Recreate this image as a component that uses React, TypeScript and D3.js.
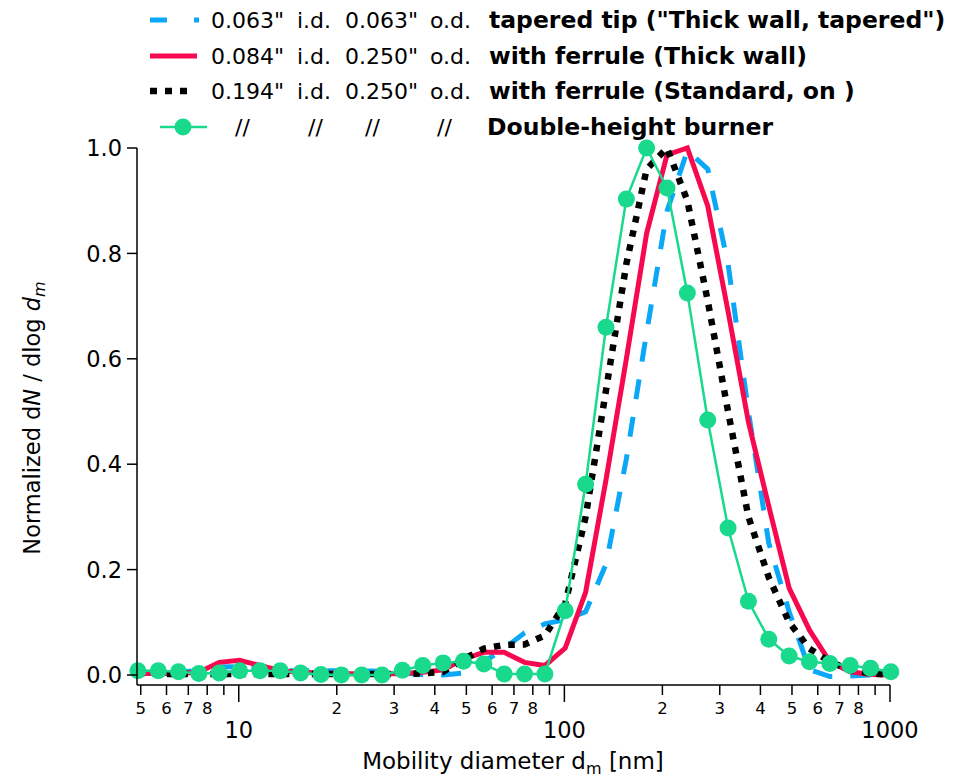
import { useEffect } from 'react'
import * as d3 from 'd3'

// SMPS bin midpoints [nm], 16 per decade
const DIAMETER = [
  4.9, 5.66, 6.53, 7.54, 8.71, 10.06, 11.62, 13.41, 15.49, 17.89, 20.66, 23.86, 27.55,
  31.81, 36.74, 42.43, 48.99, 56.58, 65.33, 75.45, 87.13, 100.6, 116.2, 134.2, 155.0,
  178.9, 206.6, 238.6, 275.6, 318.2, 367.5, 424.4, 490.1, 566.0, 653.6, 754.8, 871.6, 1006,
]

// 0.063" i.d. tapered tip (blue dashed)
const TAPERED = [
  0.005, 0.005, 0.006, 0.008, 0.015, 0.016, 0.012, 0.008, 0.008, 0.008, 0.008, 0.008, 0.007,
  0.004, 0.001, 0.0, 0.004, 0.025, 0.05, 0.08, 0.097, 0.105, 0.12, 0.21, 0.41,
  0.65, 0.88, 0.995, 0.96, 0.78, 0.5, 0.25, 0.12, 0.01, -0.003, -0.002, 0.0, 0.0,
]

// 0.084" i.d. with ferrule (red solid)
const THICK_WALL = [
  0.003, 0.003, 0.003, 0.005, 0.024, 0.028, 0.018, 0.008, 0.005, 0.004, 0.003, 0.002, 0.002,
  0.003, 0.005, 0.01, 0.03, 0.043, 0.043, 0.024, 0.018, 0.051, 0.157, 0.37, 0.6,
  0.838, 0.987, 1.0, 0.89, 0.69, 0.48, 0.32, 0.165, 0.085, 0.025, 0.006, 0.001, 0.0,
]

// 0.194" i.d. with ferrule (black dotted)
const STANDARD = [
  0.003, 0.002, 0.002, 0.002, 0.002, 0.002, 0.002, 0.002, 0.002, 0.002, 0.002, 0.002, 0.002,
  0.002, 0.003, 0.006, 0.03, 0.05, 0.057, 0.058, 0.075, 0.135, 0.3, 0.54, 0.78,
  0.96, 1.0, 0.9, 0.71, 0.5, 0.3, 0.185, 0.1, 0.05, 0.025, 0.01, 0.003, 0.0,
]

// double-height burner (green markers)
const DOUBLE_HEIGHT = [
  0.008, 0.008, 0.006, 0.003, 0.004, 0.008, 0.008, 0.008, 0.004, 0.001, 0.0, 0.0, 0.0,
  0.009, 0.018, 0.023, 0.026, 0.021, 0.002, 0.002, 0.002, 0.122, 0.362, 0.66, 0.903,
  1.0, 0.924, 0.725, 0.484, 0.279, 0.14, 0.068, 0.036, 0.025, 0.022, 0.018, 0.013, 0.006,
]

const Y_TICKS = [0, 0.2, 0.4, 0.6, 0.8, 1.0]
const X_MAJOR_TICKS = [10, 100, 1000]
const X_MINOR_TICKS = [5, 6, 7, 8, 9, 20, 30, 40, 50, 60, 70, 80, 90, 200, 300, 400, 500, 600, 700, 800, 900]
const X_MINOR_LABELS = [5, 6, 7, 8, 20, 30, 40, 50, 60, 70, 80, 200, 300, 400, 500, 600, 700, 800]

const BLUE = '#0aa8f7'
const RED = '#f7094f'
const GREEN = '#18d98c'
const FONT = '"DejaVu Sans", Verdana, sans-serif'

export default function App() {
  useEffect(() => {
    document.body.style.margin = '0'
  }, [])

  const width = 957
  const height = 780
  const x = d3.scaleLog().domain([4.87, 1000]).range([137, 890])
  const y = d3.scaleLinear().domain([0, 1]).range([675, 148])
  const axisY = 685

  const line = d3
    .line<number>()
    .x((_, i) => x(DIAMETER[i]))
    .y((d) => y(d))

  return (
    <svg width={width} height={height} style={{ display: 'block', background: '#fff' }} fontFamily={FONT}>
      {/* series */}
      <path d={line(TAPERED) ?? ''} fill="none" stroke={BLUE} strokeWidth={5} strokeDasharray="20,18" />
      <path d={line(THICK_WALL) ?? ''} fill="none" stroke={RED} strokeWidth={5} />
      <path d={line(STANDARD) ?? ''} fill="none" stroke="#000" strokeWidth={6.5} strokeDasharray="6.5,8" />
      <path d={line(DOUBLE_HEIGHT) ?? ''} fill="none" stroke={GREEN} strokeWidth={2.5} />
      {DOUBLE_HEIGHT.map((d, i) => (
        <circle key={i} cx={x(DIAMETER[i])} cy={y(d)} r={8.5} fill={GREEN} />
      ))}

      {/* y axis */}
      <line x1={137} x2={137} y1={y(1)} y2={axisY} stroke="#000" strokeWidth={1.5} />
      {Y_TICKS.map((t) => (
        <g key={t}>
          <line x1={127} x2={137} y1={y(t)} y2={y(t)} stroke="#000" strokeWidth={1.5} />
          <text x={122} y={y(t)} dy="0.36em" textAnchor="end" fontSize={22.5}>
            {t.toFixed(1)}
          </text>
        </g>
      ))}

      {/* x axis */}
      <line x1={137} x2={890} y1={axisY} y2={axisY} stroke="#000" strokeWidth={1.5} />
      {X_MINOR_TICKS.map((t) => (
        <line key={t} x1={x(t)} x2={x(t)} y1={axisY} y2={axisY + 10} stroke="#000" strokeWidth={1.5} />
      ))}
      {X_MAJOR_TICKS.map((t) => (
        <line key={t} x1={x(t)} x2={x(t)} y1={axisY} y2={axisY + 17} stroke="#000" strokeWidth={1.5} />
      ))}
      {X_MINOR_LABELS.map((t) => (
        <text key={t} x={x(t)} y={714} textAnchor="middle" fontSize={16.5}>
          {String(t)[0]}
        </text>
      ))}
      {X_MAJOR_TICKS.map((t) => (
        <text key={t} x={x(t)} y={738} textAnchor="middle" fontSize={22.5}>
          {t}
        </text>
      ))}

      {/* axis titles */}
      <text x={513} y={769} textAnchor="middle" fontSize={23}>
        Mobility diameter d<tspan fontSize={16} dy={5}>m</tspan>
        <tspan dy={-5}> [nm]</tspan>
      </text>
      <text transform="translate(40,418) rotate(-90)" textAnchor="middle" fontSize={22.5}>
        Normalized d<tspan fontStyle="italic">N</tspan> / dlog <tspan fontStyle="italic">d</tspan>
        <tspan fontStyle="italic" fontSize={16} dy={5}>m</tspan>
      </text>

      {/* legend */}
      <line x1={150} x2={199} y1={20} y2={20} stroke={BLUE} strokeWidth={5} strokeDasharray="17,27" />
      <line x1={150} x2={197} y1={56} y2={56} stroke={RED} strokeWidth={5} />
      <line x1={150} x2={192} y1={91} y2={91} stroke="#000" strokeWidth={6.5} strokeDasharray="7,8" />
      <line x1={160} x2={207} y1={127} y2={127} stroke={GREEN} strokeWidth={2.5} />
      <circle cx={183} cy={127} r={8.5} fill={GREEN} />

      <g fontSize={22}>
        <text x={211} y={28}>0.063"</text>
        <text x={297} y={28}>i.d.</text>
        <text x={345} y={28}>0.063"</text>
        <text x={430} y={28}>o.d.</text>
        <text x={489} y={28} fontWeight="bold" fontSize={23.5}>tapered tip ("Thick wall, tapered")</text>

        <text x={211} y={64}>0.084"</text>
        <text x={297} y={64}>i.d.</text>
        <text x={345} y={64}>0.250"</text>
        <text x={430} y={64}>o.d.</text>
        <text x={489} y={64} fontWeight="bold" fontSize={23.5}>with ferrule (Thick wall)</text>

        <text x={211} y={99}>0.194"</text>
        <text x={297} y={99}>i.d.</text>
        <text x={345} y={99}>0.250"</text>
        <text x={430} y={99}>o.d.</text>
        <text x={489} y={99} fontWeight="bold" fontSize={23.5}>with ferrule (Standard, on )</text>

        <text x={235} y={135}>//</text>
        <text x={308} y={135}>//</text>
        <text x={365} y={135}>//</text>
        <text x={437} y={135}>//</text>
        <text x={487} y={135} fontWeight="bold" fontSize={23.5}>Double-height burner</text>
      </g>
    </svg>
  )
}
